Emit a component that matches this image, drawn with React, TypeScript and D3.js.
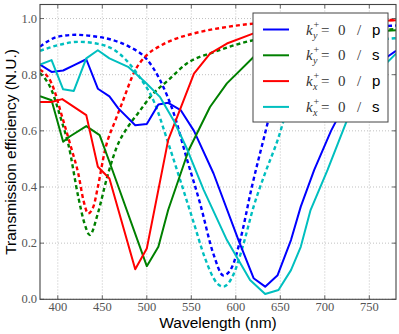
import React from "react";
import * as d3 from "d3";

// ---- data ----
const xTicks = [400, 450, 500, 550, 600, 650, 700, 750];
const yTicks = [0, 0.2, 0.4, 0.6, 0.8, 1.0];

// measured (solid, piecewise linear)
const kyP_meas_x = [380, 393, 406, 419, 432, 445, 458, 468, 487, 500, 513, 524, 538, 553, 575, 603, 620, 633, 647, 662, 673, 688, 707, 730, 755, 780];
const kyP_meas_y = [0.836, 0.81, 0.815, 0.835, 0.855, 0.75, 0.723, 0.68, 0.62, 0.624, 0.694, 0.70, 0.674, 0.60, 0.448, 0.211, 0.075, 0.045, 0.086, 0.211, 0.33, 0.46, 0.60, 0.74, 0.83, 0.885];

const kyS_meas_x = [380, 393, 406, 413, 432, 447, 458, 500, 513, 524, 547, 571, 590, 620, 660, 720, 780];
const kyS_meas_y = [0.723, 0.709, 0.561, 0.579, 0.617, 0.585, 0.49, 0.118, 0.187, 0.318, 0.531, 0.685, 0.769, 0.863, 0.92, 0.948, 0.958];

const kxP_meas_x = [380, 393, 405, 432, 445, 458, 487, 500, 524, 553, 571, 590, 620, 660, 720, 780];
const kxP_meas_y = [0.703, 0.703, 0.713, 0.656, 0.472, 0.43, 0.107, 0.181, 0.567, 0.804, 0.875, 0.911, 0.947, 0.97, 0.985, 0.994];

const kxS_meas_x = [380, 393, 406, 418, 432, 445, 458, 479, 498, 515, 530, 545, 564, 590, 616, 633, 648, 662, 673, 684, 703, 725, 750, 780];
const kxS_meas_y = [0.836, 0.852, 0.748, 0.742, 0.858, 0.887, 0.858, 0.828, 0.774, 0.72, 0.638, 0.537, 0.389, 0.211, 0.069, 0.019, 0.033, 0.104, 0.187, 0.318, 0.46, 0.638, 0.78, 0.875];

// theory (dashed, smooth)
const kyP_th_x = [380, 400, 420, 440, 460, 480, 500, 515, 530, 545, 560, 575, 586, 595, 605, 618, 632, 645, 660, 680, 710, 780];
const kyP_th_y = [0.90, 0.935, 0.942, 0.937, 0.925, 0.90, 0.855, 0.78, 0.665, 0.50, 0.34, 0.16, 0.085, 0.11, 0.211, 0.40, 0.58, 0.74, 0.86, 0.93, 0.96, 0.975];

const kyS_th_x = [380, 393, 404, 412, 423, 430, 436, 445, 455, 466, 480, 490, 505, 524, 545, 575, 620, 680, 780];
const kyS_th_y = [0.806, 0.745, 0.638, 0.55, 0.365, 0.27, 0.229, 0.306, 0.43, 0.54, 0.62, 0.662, 0.725, 0.78, 0.84, 0.88, 0.923, 0.945, 0.962];

const kxP_th_x = [380, 393, 406, 415, 423, 429, 434, 440, 445, 453, 465, 472, 487, 500, 513, 530, 553, 590, 620, 680, 780];
const kxP_th_y = [0.818, 0.769, 0.638, 0.54, 0.448, 0.35, 0.306, 0.33, 0.40, 0.531, 0.64, 0.697, 0.816, 0.87, 0.899, 0.925, 0.947, 0.97, 0.982, 0.99, 0.995];

const kxS_th_x = [380, 400, 423, 445, 464, 490, 509, 523, 538, 553, 565, 579, 586, 598, 608, 620, 633, 647, 660, 680, 710, 780];
const kxS_th_y = [0.885, 0.905, 0.917, 0.91, 0.887, 0.80, 0.697, 0.567, 0.42, 0.27, 0.15, 0.057, 0.045, 0.093, 0.19, 0.33, 0.45, 0.567, 0.70, 0.82, 0.90, 0.93];

const seriesNames = ["ky_p", "ky_s", "kx_p", "kx_s"];
const seriesColors = ["#0000ff", "#008000", "#ff0000", "#00bfbf"];
const legendSub = ["y", "y", "x", "x"];
const legendPol = ["p", "s", "p", "s"];

const measX = [kyP_meas_x, kyS_meas_x, kxP_meas_x, kxS_meas_x];
const measY = [kyP_meas_y, kyS_meas_y, kxP_meas_y, kxS_meas_y];
const thX = [kyP_th_x, kyS_th_x, kxP_th_x, kxS_th_x];
const thY = [kyP_th_y, kyS_th_y, kxP_th_y, kxS_th_y];

export default function App() {
  const W = 399, H = 334;
  const left = 40, right = 396, top = 4.5, bottom = 299.3;
  const x = d3.scaleLinear().domain([380, 780]).range([left, right]);
  const y = d3.scaleLinear().domain([0, 1.05]).range([bottom, top]);

  const lineLin = d3.line<[number, number]>().x(d => x(d[0])).y(d => y(d[1]));
  const lineSmooth = d3.line<[number, number]>().x(d => x(d[0])).y(d => y(d[1])).curve(d3.curveMonotoneX);

  const zip = (a: number[], b: number[]) => a.map((v, i) => [v, b[i]] as [number, number]);

  const serif = "'Liberation Serif', 'DejaVu Serif', serif";
  const sans = "'Liberation Sans', Arial, sans-serif";

  const legX = 253, legY = 13, legW = 135, legH = 109;
  const rowY = (i: number) => legY + 16.5 + i * 25.8;

  return (
    <svg width={W} height={H} style={{ position: "absolute", left: 0, top: 0, background: "#fff" }}>
      <defs>
        <clipPath id="plotclip">
          <rect x={left} y={top} width={right - left} height={bottom - top} />
        </clipPath>
      </defs>
      <rect x={left} y={top} width={right - left} height={bottom - top} fill="#fff" />
      {/* grid */}
      {xTicks.map(t => (
        <line key={"gx" + t} x1={x(t)} x2={x(t)} y1={top} y2={bottom} stroke="#b0b0b0" strokeWidth={0.8} strokeDasharray="1,2" />
      ))}
      {yTicks.map(t => (
        <line key={"gy" + t} x1={left} x2={right} y1={y(t)} y2={y(t)} stroke="#b0b0b0" strokeWidth={0.8} strokeDasharray="1,2" />
      ))}
      {/* curves */}
      <g clipPath="url(#plotclip)">
        {seriesNames.map((n, i) => (
          <path key={"th" + n} d={lineSmooth(zip(thX[i], thY[i])) || ""} fill="none" stroke={seriesColors[i]} strokeWidth={2.4} strokeDasharray="4,3" />
        ))}
        {seriesNames.map((n, i) => (
          <path key={"m" + n} d={lineLin(zip(measX[i], measY[i])) || ""} fill="none" stroke={seriesColors[i]} strokeWidth={2} strokeLinejoin="round" />
        ))}
      </g>
      {/* ticks */}
      {xTicks.map(t => (
        <g key={"tx" + t}>
          <line x1={x(t)} x2={x(t)} y1={bottom} y2={bottom - 4} stroke="#444" strokeWidth={0.8} />
          <line x1={x(t)} x2={x(t)} y1={top} y2={top + 4} stroke="#444" strokeWidth={0.8} />
          <text x={x(t)} y={311} textAnchor="middle" fontFamily={serif} fontSize={12.5} fill="#555">{t}</text>
        </g>
      ))}
      {yTicks.map(t => (
        <g key={"ty" + t}>
          <line x1={left} x2={left + 4} y1={y(t)} y2={y(t)} stroke="#444" strokeWidth={0.8} />
          <line x1={right} x2={right - 4} y1={y(t)} y2={y(t)} stroke="#444" strokeWidth={0.8} />
          <text x={37} y={y(t) + 4} textAnchor="end" fontFamily={serif} fontSize={12.5} fill="#555">{t.toFixed(1)}</text>
        </g>
      ))}
      {/* frame */}
      <rect x={left} y={top} width={right - left} height={bottom - top} fill="none" stroke="#444" strokeWidth={1.1} />
      {/* axis labels */}
      <text x={(left + right) / 2} y={328} textAnchor="middle" fontFamily={sans} fontSize={15.5} fill="#000">Wavelength (nm)</text>
      <text transform={`translate(15.5, ${(top + bottom) / 2}) rotate(-90)`} textAnchor="middle" fontFamily={sans} fontSize={15.5} fill="#000">Transmission efficiency (N.U.)</text>
      {/* legend */}
      <rect x={legX} y={legY} width={legW} height={legH} fill="#fff" stroke="#444" strokeWidth={1} />
      {seriesNames.map((n, i) => {
        const ry = rowY(i);
        return (
          <g key={"lg" + n}>
            <line x1={263} x2={289} y1={ry} y2={ry} stroke={seriesColors[i]} strokeWidth={2} />
            <text x={306} y={ry + 5} fontFamily={serif} fontStyle="italic" fontSize={15} fill="#333">k</text>
            <text x={313.5} y={ry - 2} fontFamily={serif} fontSize={10} fill="#333">+</text>
            <text x={313} y={ry + 9} fontFamily={serif} fontStyle="italic" fontSize={10} fill="#333">{legendSub[i]}</text>
            <text x={321} y={ry + 5} fontFamily={serif} fontSize={15} fill="#333">=</text>
            <text x={338} y={ry + 5} fontFamily={serif} fontSize={15} fill="#333">0</text>
            <text x={357} y={ry + 5} fontFamily={serif} fontSize={15} fill="#333">/</text>
            <text x={372} y={ry + 5} fontFamily={sans} fontSize={15} fill="#000">{legendPol[i]}</text>
          </g>
        );
      })}
    </svg>
  );
}
